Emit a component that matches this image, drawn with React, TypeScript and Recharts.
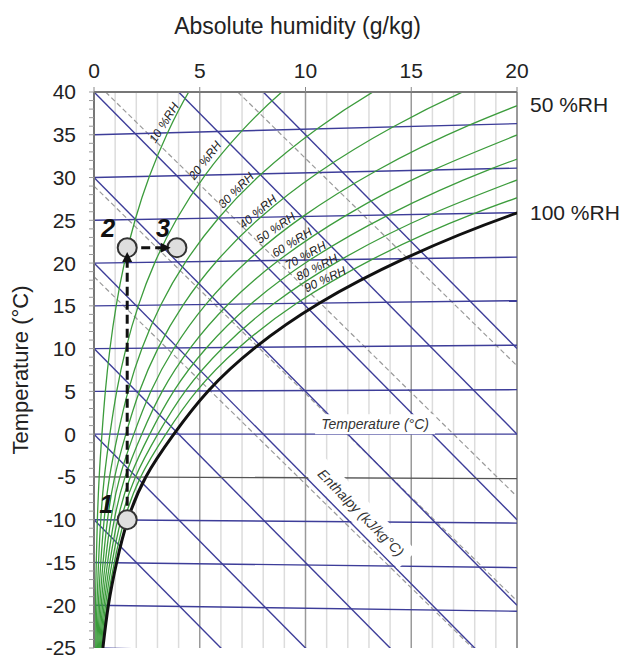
import React from 'react';
import { LineChart, Line, XAxis, YAxis, ReferenceLine, ReferenceDot } from 'recharts';

// axes
const X_TICKS = [0, 5, 10, 15, 20];
const Y_MAJOR = [40, 35, 30, 25, 20, 15, 10, 5, 0, -5, -10, -15, -20, -25];
const Y_TICKS = Array.from({ length: 66 }, (_, i) => 40 - i);
const GRID_MINOR = [1, 2, 3, 4, 6, 7, 8, 9, 11, 12, 13, 14, 16, 17, 18, 19];
const GRID_MAJOR = [5, 10, 15, 20];

// relative humidity curves as [g/kg, chart °C], read along the 5 °C rows
const RH_10 = [[0.042, -25], [0.068, -20], [0.107, -15], [0.16, -10], [0.245, -5], [0.376, 0], [0.536, 5], [0.755, 10.01], [1.05, 15.03], [1.44, 20.05], [1.95, 25.09], [2.62, 30.15], [3.48, 35.23], [4.56, 40.34], [5.94, 45.49]];
const RH_20 = [[0.084, -25], [0.136, -20], [0.214, -15], [0.32, -10], [0.49, -5], [0.751, 0], [1.073, 5.01], [1.511, 10.03], [2.101, 15.06], [2.885, 20.11], [3.916, 25.18], [5.256, 30.29], [6.99, 35.45], [9.2, 40.68], [12.0, 46.0]];
const RH_30 = [[0.126, -25], [0.204, -20], [0.321, -15], [0.48, -10], [0.735, -5], [1.128, 0], [1.611, 5.01], [2.27, 10.04], [3.157, 15.09], [4.338, 20.16], [5.893, 25.27], [7.92, 30.44], [10.54, 35.68], [13.9, 41.03], [18.18, 46.51]];
const RH_40 = [[0.168, -25], [0.272, -20], [0.428, -15], [0.64, -10], [0.98, -5], [1.505, 0], [2.15, 5.02], [3.031, 10.06], [4.217, 15.12], [5.797, 20.21], [7.882, 25.36], [10.61, 30.59], [14.13, 35.91], [18.68, 41.38], [24.49, 47.04]];
const RH_50 = [[0.21, -25], [0.34, -20], [0.535, -15], [0.8, -10], [1.225, -5], [1.882, 0], [2.69, 5.02], [3.793, 10.07], [5.28, 15.15], [7.264, 20.27], [9.885, 25.46], [13.31, 30.74], [17.77, 36.15], [23.52, 41.74]];
const RH_60 = [[0.252, -25], [0.408, -20], [0.642, -15], [0.96, -10], [1.47, -5], [2.259, 0], [3.231, 5.03], [4.557, 10.08], [6.347, 15.18], [8.737, 20.32], [11.9, 25.55], [16.05, 30.89], [21.45, 36.39]];
const RH_70 = [[0.294, -25], [0.476, -20], [0.749, -15], [1.12, -10], [1.715, -5], [2.637, 0], [3.772, 5.03], [5.322, 10.1], [7.417, 15.21], [10.22, 20.38], [13.93, 25.64], [18.8, 31.04], [25.17, 36.63]];
const RH_80 = [[0.336, -25], [0.544, -20], [0.856, -15], [1.28, -10], [1.96, -5], [3.017, 0], [4.315, 5.04], [6.091, 10.11], [8.491, 15.24], [11.7, 20.43], [15.97, 25.74], [21.58, 31.2]];
const RH_90 = [[0.378, -25], [0.612, -20], [0.963, -15], [1.44, -10], [2.205, -5], [3.396, 0], [4.859, 5.05], [6.861, 10.13], [9.568, 15.27], [13.2, 20.49], [18.02, 25.83], [24.38, 31.35]];
const RH_100 = [[0.42, -25], [0.68, -20], [1.07, -15], [1.6, -10], [2.45, -5], [3.775, 0], [5.4, 5.05], [7.63, 10.14], [10.65, 15.3], [14.7, 20.54], [20.09, 25.93], [27.21, 31.51]];

const RH_CURVES = [RH_10, RH_20, RH_30, RH_40, RH_50, RH_60, RH_70, RH_80, RH_90];
const RH_NAMES = ['10 %RH', '20 %RH', '30 %RH', '40 %RH', '50 %RH', '60 %RH', '70 %RH', '80 %RH', '90 %RH'];
const RH_LABEL_AT = [[3.31, 36.4], [5.25, 32.0], [6.71, 28.5], [7.75, 26.0], [8.6, 24.1], [9.36, 22.4], [10.0, 20.9], [10.54, 19.5], [10.92, 18.1]];
const RH_LABEL_ANGLE = [-58, -52, -45, -40, -35, -32, -29, -27, -25];

// isotherms: value at 0 g/kg and at 20 g/kg
const ISO_LEFT = [40, 35, 30, 25, 20, 15, 10, 5, 0, -5, -10, -15, -20, -25];
const ISO_RIGHT = [41.5, 36.3, 31.1, 25.9, 20.7, 15.6, 10.4, 5.2, 0, -5.2, -10.4, -15.6, -20.7, -25.9];

// enthalpy lines: value at 0 g/kg and at 20 g/kg
const ENTH_LEFT = [60, 50, 40, 30, 20, 10, 0, -10];
const ENTH_RIGHT = [10, 0, -10, -20, -30, -40, -50, -60];

// wet bulb lines (dashed), start and end
const WB_START = [[6.8, 40], [0.55, 40], [0, 29], [0, 18.4]];
const WB_END = [[20, 8], [20, -7.3], [20, -19.5], [17.9, -25]];

// process
const POINTS = [{ name: '1', x: 1.57, y: -10 }, { name: '2', x: 1.57, y: 21.8 }, { name: '3', x: 3.92, y: 21.8 }];
const PATH_UP = [[1.57, -10], [1.57, 21.3]];
const PATH_RIGHT = [[1.57, 21.8], [3.58, 21.8]];

const GREEN = '#3c9c3c';
const BLUE = '#3d3d99';
const FONT = '"Liberation Sans", Arial, sans-serif';

const pts = (arr: number[][]) => arr.map(([x, y]) => ({ x, y }));
const seg = (a: number[], b: number[]) => [{ x: a[0], y: a[1] }, { x: b[0], y: b[1] }];

const LABEL_OFFSET: Record<string, [number, number]> = { '1': [-21, -16], '2': [-19, -20], '3': [-14, -20] };

export default function App() {
  const lineProps = { dataKey: 'y', dot: false, activeDot: false, isAnimationActive: false } as const;
  return (
    <div style={{ position: 'absolute', left: 0, top: 0, fontFamily: FONT, background: '#fff' }}>
      <LineChart width={623} height={659} margin={{ top: 0, right: 106, bottom: 11, left: 0 }}>
        <XAxis
          type="number" dataKey="x" orientation="top" domain={[0, 20]} ticks={X_TICKS}
          allowDataOverflow height={92} interval={0}
          tick={{ fontSize: 21, fill: '#222' }} tickSize={5} tickMargin={9}
          tickLine={{ stroke: '#888' }} axisLine={{ stroke: '#777', strokeWidth: 2 }}
          label={{ value: 'Absolute humidity (g/kg)', position: 'insideTop', offset: 18, dx: -8, style: { fontSize: 23, fill: '#222' } }}
        />
        <YAxis
          type="number" domain={[-25, 40]} ticks={Y_TICKS} interval={0} allowDataOverflow width={94}
          tickFormatter={(v: number) => (Y_MAJOR.includes(v) ? String(v) : '')}
          tick={{ fontSize: 21, fill: '#222' }} tickSize={5} tickMargin={13}
          tickLine={{ stroke: '#999' }} axisLine={{ stroke: '#777', strokeWidth: 2 }}
          label={{ value: 'Temperature (°C)', angle: -90, position: 'insideLeft', offset: 20, style: { textAnchor: 'middle', fontSize: 22, fill: '#222' } }}
        />

        {GRID_MINOR.map(v => <ReferenceLine key={'gm' + v} x={v} stroke="#dcdcdc" strokeWidth={1.5} />)}
        {GRID_MAJOR.map(v => <ReferenceLine key={'gM' + v} x={v} stroke="#9a9a9a" strokeWidth={v === 20 ? 2 : 1.5} />)}

        {WB_START.map((s, i) => (
          <Line key={'wb' + i} {...lineProps} data={seg(s, WB_END[i])} type="linear" stroke="#9a9a9a" strokeWidth={1.2} strokeDasharray="5 3" />
        ))}
        {ENTH_LEFT.map((l, i) => (
          <Line key={'en' + i} {...lineProps} data={seg([0, l], [20, ENTH_RIGHT[i]])} type="linear" stroke={BLUE} strokeWidth={1.4} />
        ))}
        {ISO_LEFT.map((l, i) => (
          <Line key={'is' + i} {...lineProps} data={seg([0, l], [20, ISO_RIGHT[i]])} type="linear"
            stroke={l === -5 ? '#555' : BLUE} strokeWidth={1.4} />
        ))}
        {RH_CURVES.map((c, i) => (
          <Line key={'rh' + i} {...lineProps} data={pts(c)} type="natural" stroke={GREEN} strokeWidth={1.3} />
        ))}
        <Line {...lineProps} data={pts(RH_100)} type="natural" stroke="#111" strokeWidth={3} />

        <Line {...lineProps} data={pts(PATH_UP)} type="linear" stroke="#111" strokeWidth={3} strokeDasharray="9 5" />
        <Line {...lineProps} data={pts(PATH_RIGHT)} type="linear" stroke="#111" strokeWidth={3} strokeDasharray="9 5" />

        {RH_NAMES.map((n, i) => (
          <ReferenceDot key={'rl' + i} x={RH_LABEL_AT[i][0]} y={RH_LABEL_AT[i][1]} r={0}
            shape={(p: any) => (
              <text x={p.cx} y={p.cy} transform={`rotate(${RH_LABEL_ANGLE[i]} ${p.cx} ${p.cy})`}
                textAnchor="middle" dominantBaseline="central" fontSize={12} fontStyle="italic" fill="#222">{n}</text>
            )} />
        ))}

        <ReferenceDot x={13.29} y={1.16} r={0}
          shape={(p: any) => (
            <g>
              <rect x={p.cx - 60} y={p.cy - 10} width={120} height={20} fill="#fff" />
              <text x={p.cx} y={p.cy} textAnchor="middle" dominantBaseline="central" fontSize={14} fontStyle="italic" fill="#333">Temperature (°C)</text>
            </g>
          )} />
        <ReferenceDot x={12.62} y={-9.19} r={0}
          shape={(p: any) => (
            <g transform={`rotate(45.5 ${p.cx} ${p.cy})`}>
              <rect x={p.cx - 66} y={p.cy - 13} width={132} height={26} fill="#fff" />
              <text x={p.cx} y={p.cy} textAnchor="middle" dominantBaseline="central" fontSize={14} fontStyle="italic" fill="#333">Enthalpy (kJ/kg°C)</text>
            </g>
          )} />

        <ReferenceDot x={20} y={38.5} r={0}
          shape={(p: any) => <text x={p.cx + 13} y={p.cy} dominantBaseline="central" fontSize={21} fill="#222">50 %RH</text>} />
        <ReferenceDot x={20} y={25.9} r={0}
          shape={(p: any) => <text x={p.cx + 13} y={p.cy} dominantBaseline="central" fontSize={21} fill="#222">100 %RH</text>} />

        {POINTS.map(pt => (
          <ReferenceDot key={'pt' + pt.name} x={pt.x} y={pt.y} r={9.5}
            shape={(p: any) => (
              <g>
                <circle cx={p.cx} cy={p.cy} r={9.5} fill="#dedede" stroke="#333" strokeWidth={2} />
                <text x={p.cx + LABEL_OFFSET[pt.name][0]} y={p.cy + LABEL_OFFSET[pt.name][1]} textAnchor="middle"
                  dominantBaseline="central" fontSize={25} fontWeight="bold" fontStyle="italic" fill="#111">{pt.name}</text>
              </g>
            )} />
        ))}
        <ReferenceDot x={PATH_UP[1][0]} y={PATH_UP[1][1]} r={0}
          shape={(p: any) => <polygon points={`${p.cx},${p.cy} ${p.cx - 5},${p.cy + 10} ${p.cx + 5},${p.cy + 10}`} fill="#111" />} />
        <ReferenceDot x={PATH_RIGHT[1][0]} y={PATH_RIGHT[1][1]} r={0}
          shape={(p: any) => <polygon points={`${p.cx + 1},${p.cy} ${p.cx - 9},${p.cy - 5} ${p.cx - 9},${p.cy + 5}`} fill="#111" />} />
      </LineChart>
    </div>
  );
}
